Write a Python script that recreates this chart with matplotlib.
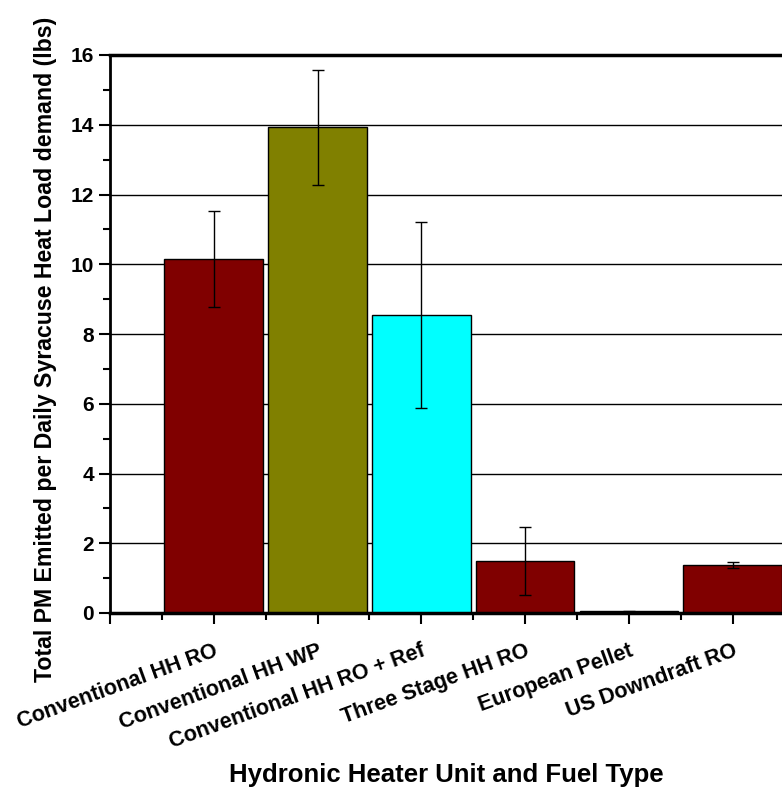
import matplotlib.pyplot as plt
import numpy as np

plt.rcParams['font.family'] = ['Liberation Sans', 'DejaVu Sans']

categories = ['Conventional HH RO', 'Conventional HH WP', 'Conventional HH RO + Ref',
              'Three Stage HH RO', 'European Pellet', 'US Downdraft RO']
values = [10.15, 13.93, 8.55, 1.50, 0.05, 1.37]
errors = [1.38, 1.65, 2.67, 0.97, 0.01, 0.08]
colors = ['#800000', '#808000', '#00FFFF', '#800000', '#808000', '#800000']

fig = plt.figure(figsize=(7.82, 7.93), dpi=100)
ax = fig.add_axes([110 / 782, 180 / 793, 1.0 - 110 / 782 + 0.01, 558 / 793])

x = np.arange(len(categories))
ax.set_axisbelow(True)
ax.yaxis.grid(True, color='black', linewidth=1.0)
ax.bar(x, values, width=0.95, color=colors, edgecolor='black', linewidth=1.0, zorder=2)
ax.errorbar(x, values, yerr=errors, fmt='none', ecolor='black', elinewidth=1.0,
            capsize=4, capthick=1.0, zorder=3)

ax.set_xlim(-1, 5.55)
ax.set_ylim(0, 16)
ax.set_yticks(np.arange(0, 17, 2))
ax.set_yticks(np.arange(1, 16, 2), minor=True)
ax.set_xticks(np.arange(-1, 6))
ax.set_xticks(np.arange(-0.5, 6, 1), minor=True)
ax.set_xticklabels([''] + categories, rotation=20, ha='right', rotation_mode='anchor',
                   fontsize=15.5, fontweight='bold')
for lab in ax.get_yticklabels():
    lab.set_fontsize(15)
    lab.set_fontweight('bold')

ax.tick_params(axis='both', which='major', direction='out', length=8, width=1.5)
ax.tick_params(axis='both', which='minor', direction='out', length=5, width=1.5)
ax.tick_params(axis='x', which='major', pad=12)

ax.spines['right'].set_visible(False)
ax.spines['left'].set_linewidth(2)
ax.spines['bottom'].set_linewidth(2.5)
ax.spines['top'].set_linewidth(2.5)

ax.set_ylabel('Total PM Emitted per Daily Syracuse Heat Load demand (lbs)',
              fontsize=16.7, fontweight='bold', va='center')
ax.yaxis.set_label_coords(-0.0956, 0.473)
ax.set_xlabel('Hydronic Heater Unit and Fuel Type', fontsize=18.5, fontweight='bold',
              va='center')
ax.xaxis.set_label_coords(0.494, -0.29)

fig.savefig('out.png', dpi=100)
